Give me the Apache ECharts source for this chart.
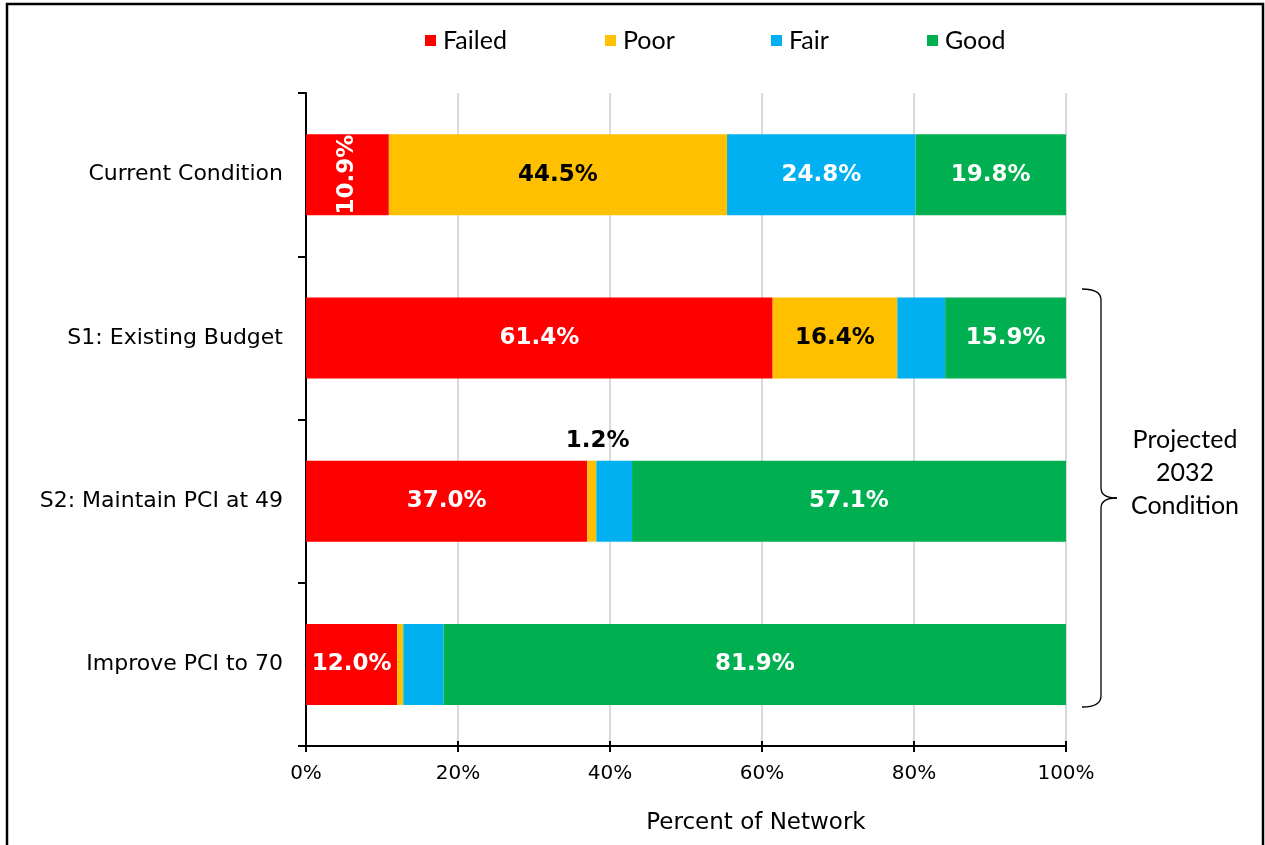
<!DOCTYPE html>
<html>
<head>
<meta charset="utf-8">
<title>Network condition</title>
<script src="https://cdn.jsdelivr.net/npm/echarts@6/dist/echarts.min.js"></script>
<style>
    html, body { margin: 0; padding: 0; background: #fff; }
    #main { width: 1265px; height: 845px; }
</style>
</head>
<body>
<div id="main"></div>
<script>
    // 数据
    var categories = ['Current Condition', 'S1: Existing Budget', 'S2: Maintain PCI at 49', 'Improve PCI to 70'];
    var failed = [10.9, 61.4, 37.0, 12.0];
    var poor   = [44.5, 16.4, 1.2, 0.8];
    var fair   = [24.8, 6.3, 4.7, 5.3];
    var good   = [19.8, 15.9, 57.1, 81.9];
    var xTicks = [0, 20, 40, 60, 80, 100];

    var valFont = 'DejaVu Sans, Verdana, sans-serif';
    var lblFont = 'Lato, Carlito, Calibri, sans-serif';

    function pct(p) { return p.value.toFixed(1) + '%'; }

    // build items, hide labels where the reference has none
    function items(values, hidden, extra) {
        return values.map(function (v, i) {
            var it = { value: v };
            if (hidden.indexOf(i) >= 0) it.label = { show: false };
            if (extra && extra[i]) it.label = extra[i];
            return it;
        });
    }

    function bar(name, color, data, textColor) {
        return {
            name: name,
            type: 'bar',
            stack: 'total',
            barWidth: 81,
            itemStyle: { color: color },
            label: {
                show: true,
                position: 'inside',
                formatter: pct,
                color: textColor,
                fontFamily: valFont,
                fontWeight: 'bold',
                fontSize: 23
            },
            emphasis: { disabled: true },
            data: data
        };
    }

    // brace pieces
    var braceStyle = { fill: 'none', stroke: '#000', lineWidth: 1.3 };
    function curve(x1, y1, cx, cy, x2, y2) {
        return { type: 'bezierCurve', shape: { x1: x1, y1: y1, cpx1: cx, cpy1: cy, x2: x2, y2: y2 }, style: braceStyle, silent: true };
    }
    function seg(x1, y1, x2, y2) {
        return { type: 'line', shape: { x1: x1, y1: y1, x2: x2, y2: y2 }, style: braceStyle, silent: true };
    }

    var chart = echarts.init(document.getElementById('main'));

    var xRange = { type: 'value', min: xTicks[0], max: xTicks[xTicks.length - 1], interval: 20 };

    var option = {
        animation: false,
        legend: ['Failed', 'Poor', 'Fair', 'Good'].map(function (n, i) {
            return {
                data: [n],
                left: [420, 600, 766, 922][i],
                top: 23,
                icon: 'rect',
                itemWidth: 11,
                itemHeight: 11,
                itemGap: 4,
                selectedMode: false,
                textStyle: { fontFamily: lblFont, fontSize: 25, color: '#000', padding: [0, 0, 0, 2] }
            };
        }),
        grid: { left: 306, right: 199, top: 93, bottom: 99 },
        xAxis: [
            Object.assign({}, xRange, {
                name: 'Percent of Network',
                nameLocation: 'middle',
                nameGap: 66,
                nameTextStyle: { fontFamily: valFont, fontSize: 23, color: '#000', padding: [0, 0, 0, 140] },
                axisLine: { show: true, lineStyle: { color: '#000', width: 2 } },
                axisTick: { show: true, length: 6, lineStyle: { color: '#000', width: 2 } },
                axisLabel: { formatter: '{value}%', fontFamily: valFont, fontSize: 20, color: '#000', margin: 18 },
                splitLine: { show: true, lineStyle: { color: '#d9d9d9', width: 2 } }
            }),
            // inner half of the crossing ticks
            Object.assign({}, xRange, {
                position: 'bottom',
                axisLine: { show: false },
                axisTick: { show: true, inside: true, length: 5, lineStyle: { color: '#000', width: 2 } },
                axisLabel: { show: false },
                splitLine: { show: false }
            })
        ],
        yAxis: {
            type: 'category',
            inverse: true,
            data: categories,
            axisLine: { show: true, lineStyle: { color: '#000', width: 2 } },
            axisTick: { show: true, length: 8, lineStyle: { color: '#000', width: 2 } },
            axisLabel: { fontFamily: valFont, fontSize: 22, color: '#000', margin: 23 },
            splitLine: { show: false }
        },
        series: [
            bar('Failed', '#ff0000', items(failed, [], { 0: { rotate: 90 } }), '#fff'),
            bar('Poor', '#ffc000', items(poor, [3], { 2: { position: 'top', distance: 8, offset: [6, 0], fontSize: 23 } }), '#000'),
            bar('Fair', '#00b0f0', items(fair, [1, 2, 3]), '#fff'),
            bar('Good', '#00b050', items(good, []), '#fff')
        ],
        graphic: [
            {
                // outer frame
                type: 'rect',
                shape: { x: 7, y: 4, width: 1256, height: 900 },
                style: { fill: 'none', stroke: '#000', lineWidth: 2.5 },
                silent: true
            },
            curve(1082, 289, 1101, 289, 1101, 300),
            seg(1101, 300, 1101, 488),
            curve(1101, 488, 1101, 498, 1117, 498),
            curve(1117, 498, 1101, 498, 1101, 508),
            seg(1101, 508, 1101, 696),
            curve(1101, 696, 1101, 707, 1082, 707),
            {
                type: 'text',
                x: 1185,
                y: 473,
                style: {
                    text: 'Projected\n2032\nCondition',
                    fontFamily: lblFont,
                    fontSize: 25,
                    lineHeight: 33,
                    fill: '#000',
                    align: 'center',
                    verticalAlign: 'middle'
                },
                silent: true
            }
        ]
    };

    chart.setOption(option, true);
    window.addEventListener('resize', function () {
        chart.resize();
    });
</script>
</body>
</html>
